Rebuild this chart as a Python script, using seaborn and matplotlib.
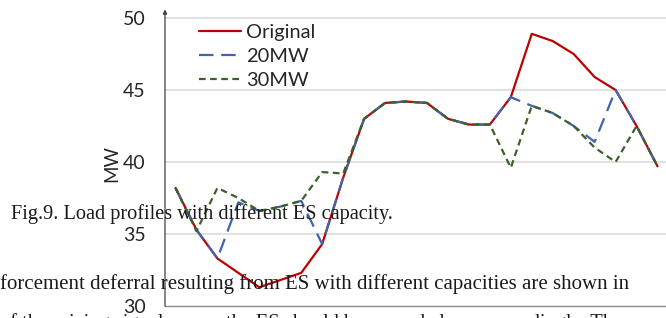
import numpy as np
import pandas as pd
import matplotlib
matplotlib.use("Agg")
import matplotlib.pyplot as plt
import seaborn as sns

hours = list(range(24))

original = [38.2, 35.3, 33.3, 32.3, 31.3, 31.8, 32.3, 34.3, 38.9, 43.0, 44.1, 44.2,
            44.1, 43.0, 42.6, 42.6, 44.5, 48.9, 48.4, 47.5, 45.9, 45.0, 42.5, 39.7]
es_20mw = [38.2, 35.3, 33.3, 37.2, 36.6, 36.9, 37.3, 34.3, 38.9, 43.0, 44.1, 44.2,
           44.1, 43.0, 42.6, 42.6, 44.5, 43.9, 43.4, 42.5, 41.4, 45.0, 42.5, 39.7]
es_30mw = [38.2, 35.2, 38.2, 37.5, 36.6, 36.9, 37.3, 39.3, 39.2, 43.0, 44.1, 44.2,
           44.1, 43.0, 42.6, 42.6, 39.6, 43.9, 43.4, 42.5, 41.0, 40.0, 42.5, 39.7]

series_names = ['Original', '20MW', '30MW']
y_ticks = [30, 35, 40, 45, 50]

caption = 'Fig.9. Load profiles with different ES capacity.'
body_line1 = 'forcement deferral resulting from ES with different capacities are shown in'
body_line2 = 'of the pricing signal means the ES should be rewarded correspondingly. The'


def main():
    sns.set_style("white")
    plt.rcParams['font.family'] = ['Lato', 'DejaVu Sans']

    fig = plt.figure(figsize=(6.66, 3.18), dpi=100)
    ax = fig.add_axes([165 / 666, 12 / 318, 503 / 666, 288 / 318])

    df = pd.DataFrame({'hour': hours, 'Original': original,
                       '20MW': es_20mw, '30MW': es_30mw})

    colors = ['#C00000', '#3F64AD', '#3D6128']
    styles = ['-', (0, (6.5, 3.5)), (0, (3, 2))]
    for name, c, ls in zip(series_names, colors, styles):
        sns.lineplot(data=df, x='hour', y=name, ax=ax, color=c, lw=1.6,
                     linestyle=ls, label=name)

    ax.set_xlim(-0.5, 23.5)
    ax.set_ylim(30, 50)
    ax.set_yticks(y_ticks)
    ax.set_xticks([])
    ax.set_xlabel('')
    ax.set_ylabel('MW', fontsize=13.5)
    ax.yaxis.set_label_coords(-0.088, 0.495)
    ax.tick_params(axis='y', length=0, pad=14, labelsize=14)

    for v in y_ticks[1:]:
        ax.axhline(v, color='#D9D9D9', lw=1.1, zorder=0, clip_on=False)

    for s in ['top', 'right', 'left']:
        ax.spines[s].set_visible(False)
    ax.spines['bottom'].set_color('#8C8C8C')
    ax.spines['bottom'].set_linewidth(1.0)
    ax.annotate('', xy=(0, 1.03), xytext=(0, 0), xycoords='axes fraction',
                arrowprops=dict(arrowstyle='-|>', color='#404040', lw=0.9,
                                mutation_scale=6, shrinkA=0, shrinkB=0),
                annotation_clip=False)

    ax.legend(loc='upper left', bbox_to_anchor=(199 / 666, 1 - 24 / 318),
              bbox_transform=fig.transFigure, frameon=False, fontsize=14.4,
              handlelength=2.1, handletextpad=0.25, labelspacing=0.34,
              borderpad=0, borderaxespad=0)

    serif = ['Liberation Serif', 'DejaVu Serif']
    fig.text(11 / 666, 1 - 219 / 318, caption, family=serif, fontsize=14.6,
             va='baseline', ha='left', color='#1a1a1a')
    fig.text(0, 1 - 289 / 318, body_line1, family=serif, fontsize=15,
             va='baseline', ha='left', color='#1a1a1a')
    fig.text(0, 1 - 328 / 318, body_line2, family=serif, fontsize=14.7,
             va='baseline', ha='left', color='#1a1a1a')

    fig.savefig('out.png', dpi=100)


if __name__ == "__main__":
    main()
